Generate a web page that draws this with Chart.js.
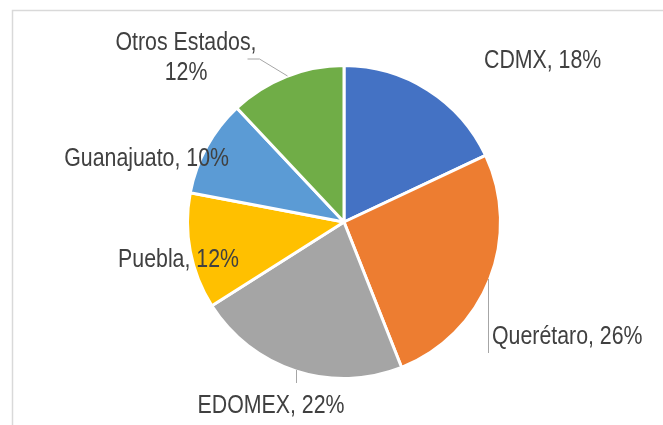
<!DOCTYPE html>
<html>
<head>
<meta charset="utf-8">
<script src="https://cdn.jsdelivr.net/npm/chart.js@4/dist/chart.umd.min.js"></script>
<style>
  html, body { margin:0; padding:0; background:#fff; }
  #wrap { width:663px; height:425px; position:relative; }
</style>
</head>
<body>
<div id="wrap"><canvas id="pie"></canvas></div>
<script>
// datos
const categories = ["CDMX", "Querétaro", "EDOMEX", "Puebla", "Guanajuato", "Otros Estados"];
const shares = [18, 26, 22, 12, 10, 12];
const sliceColors = ["#4472C4", "#ED7D31", "#A5A5A5", "#FFC000", "#5B9BD5", "#70AD47"];

// label placement, offsets from the pie centre (px)
const labelLayout = [
  {align:"left",   dx:140,  lines:[-154]},
  {align:"left",   dx:148,  lines:[122]},
  {align:"center", dx:-73,  lines:[191]},
  {align:"right",  dx:-105, lines:[45]},
  {align:"right",  dx:-115, lines:[-56]},
  {align:"center", dx:-158, lines:[-172, -142], split:true}
];
const leaders = [
  null,
  [[144,57],[144,131]],
  [[-48,148],[-48,161]],
  null,
  null,
  [[-97,-163],[-85,-163],[-57,-146]]
];

const FONT_SIZE = 26;
let narrowOk = true;
(function(){
  const c = document.createElement("canvas").getContext("2d");
  c.font = FONT_SIZE + "px 'Liberation Sans'";
  const w1 = c.measureText("Querétaro, 26%").width;
  c.font = FONT_SIZE + "px 'Liberation Sans Narrow', 'Liberation Sans'";
  const w2 = c.measureText("Querétaro, 26%").width;
  narrowOk = Math.abs(w1 - w2) > 2;
})();

function drawText(ctx, txt, x, y, align){
  ctx.save();
  ctx.textAlign = align;
  ctx.textBaseline = "alphabetic";
  if(narrowOk){
    ctx.font = FONT_SIZE + "px 'Liberation Sans Narrow', 'Arial Narrow', sans-serif";
    ctx.fillText(txt, x, y);
  } else {
    ctx.font = FONT_SIZE + "px 'Liberation Sans', Arial, sans-serif";
    ctx.translate(x, y);
    ctx.scale(0.82, 1);
    ctx.fillText(txt, 0, 0);
  }
  ctx.restore();
}

const framePlugin = {
  id: "frame",
  beforeDraw(chart){
    const ctx = chart.ctx;
    ctx.save();
    ctx.strokeStyle = "#D9D9D9";
    ctx.lineWidth = 1.5;
    ctx.beginPath();
    ctx.moveTo(12.5, chart.height + 5);
    ctx.lineTo(12.5, 10.5);
    ctx.lineTo(chart.width + 5, 10.5);
    ctx.stroke();
    ctx.restore();
  }
};

const labelPlugin = {
  id: "pieLabels",
  afterDatasetsDraw(chart){
    const ctx = chart.ctx;
    const meta = chart.getDatasetMeta(0);
    const cx = meta.data[0].x, cy = meta.data[0].y;
    ctx.save();
    ctx.strokeStyle = "#A6A6A6";
    ctx.lineWidth = 1;
    leaders.forEach(pts => {
      if(!pts) return;
      ctx.beginPath();
      pts.forEach((p, k) => {
        const px = Math.round(cx + p[0]) + 0.5, py = cy + p[1];
        k ? ctx.lineTo(px, py) : ctx.moveTo(px, py);
      });
      ctx.stroke();
    });
    ctx.fillStyle = "#404040";
    categories.forEach((cat, i) => {
      const lay = labelLayout[i];
      const txt = cat + ", " + shares[i] + "%";
      if(lay.split){
        drawText(ctx, cat + ",", cx + lay.dx, cy + lay.lines[0], lay.align);
        drawText(ctx, shares[i] + "%", cx + lay.dx, cy + lay.lines[1], lay.align);
      } else {
        drawText(ctx, txt, cx + lay.dx, cy + lay.lines[0], lay.align);
      }
    });
    ctx.restore();
  }
};

new Chart(document.getElementById("pie").getContext("2d"), {
  type: "pie",
  data: {
    labels: categories,
    datasets: [{
      data: shares,
      backgroundColor: sliceColors,
      borderColor: "#FFFFFF",
      borderWidth: 3
    }]
  },
  options: {
    responsive: true,
    maintainAspectRatio: false,
    animation: false,
    layout: { padding: { top: 64, bottom: 45, left: 100, right: 75 } },
    plugins: { legend: { display: false }, tooltip: { enabled: false } }
  },
  plugins: [framePlugin, labelPlugin]
});
</script>
</body>
</html>
